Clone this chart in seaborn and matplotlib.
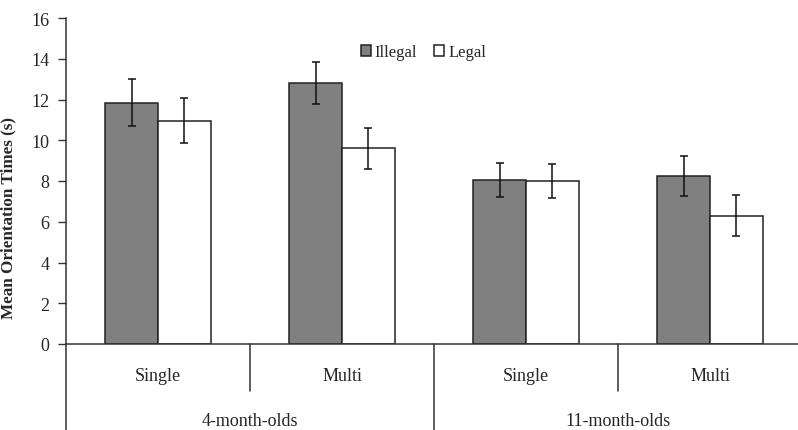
import pandas as pd
import numpy as np
import seaborn as sns
import matplotlib
matplotlib.use("Agg")
import matplotlib.pyplot as plt
import matplotlib.transforms as mtransforms

# values
ages = ["4-month-olds", "4-month-olds", "11-month-olds", "11-month-olds"]
conditions = ["Single", "Multi", "Single", "Multi"]
illegal = [11.85, 12.8, 8.05, 8.25]
legal = [10.95, 9.6, 8.0, 6.3]
illegal_err = [1.17, 1.03, 0.83, 0.98]
legal_err = [1.1, 1.0, 0.85, 1.0]
hue_names = ["Illegal", "Legal"]
age_groups = ["4-month-olds", "11-month-olds"]

cats = [a + " " + c for a, c in zip(ages, conditions)]
df = pd.DataFrame({
    "cat": cats * 2,
    "Type": ["Illegal"] * 4 + ["Legal"] * 4,
    "Time": illegal + legal,
    "err": illegal_err + legal_err,
})

sns.set_style("white")
plt.rcParams["font.family"] = ["Liberation Serif", "DejaVu Serif"]

W, H = 798, 431
fig = plt.figure(figsize=(W / 100, H / 100), dpi=100)
ax = fig.add_axes([66 / W, (H - 345) / H, 736 / W, 326 / H])

sns.barplot(data=df, x="cat", y="Time", hue="Type", order=cats,
            hue_order=hue_names, palette={"Illegal": "#808080", "Legal": "white"},
            width=0.576, errorbar=None, edgecolor="#222222", linewidth=1.1,
            saturation=1, ax=ax)

# error bars at bar centres
for bars, (_, sub) in zip(ax.containers, df.groupby("Type", sort=False)):
    xs = [b.get_x() + b.get_width() / 2 for b in bars]
    ax.errorbar(xs, sub["Time"].values, yerr=sub["err"].values, fmt="none",
                ecolor="#111111", elinewidth=1.1, capsize=3, capthick=1.1, zorder=5)

ax.set_xlim(-0.5, 3.5)
ax.set_ylim(0, 16)
ax.set_yticks(range(0, 17, 2))
ax.tick_params(axis="y", left=True, length=6, width=1, color="#333333",
               labelsize=13, pad=6)
ax.tick_params(axis="x", bottom=False, labelsize=13, pad=13)
ax.set_xticks(range(4))
ax.set_xticklabels(conditions)
ax.set_xlabel("")
ax.set_ylabel("Mean Orientation Times (s)", fontsize=12.3, fontweight="bold")
ax.yaxis.set_label_coords(-0.067, 0.39)

for s in ["top", "right"]:
    ax.spines[s].set_visible(False)
for s in ["left", "bottom"]:
    ax.spines[s].set_color("#333333")
    ax.spines[s].set_linewidth(1.1)

# hierarchical category axis below the plot
trans = mtransforms.blended_transform_factory(ax.transData, ax.transAxes)
lk = dict(color="#333333", lw=1.1, clip_on=False, transform=trans)
ax.plot([-0.5, -0.5], [0, -0.27], **lk)
ax.plot([0.5, 0.5], [0, -0.145], **lk)
ax.plot([2.5, 2.5], [0, -0.145], **lk)
ax.plot([1.5, 1.5], [0, -0.27], **lk)
for i, g in enumerate(age_groups):
    ax.text(0.5 + 2 * i, -0.235, g, transform=trans, ha="center", va="center",
            fontsize=13)

leg = ax.legend(loc="center left", bbox_to_anchor=(0.389, 0.895), ncol=2,
                frameon=False, fontsize=12, handlelength=0.6, handleheight=0.6,
                handletextpad=0.25, columnspacing=1.0, borderpad=0)

fig.savefig("out.png", dpi=100)
